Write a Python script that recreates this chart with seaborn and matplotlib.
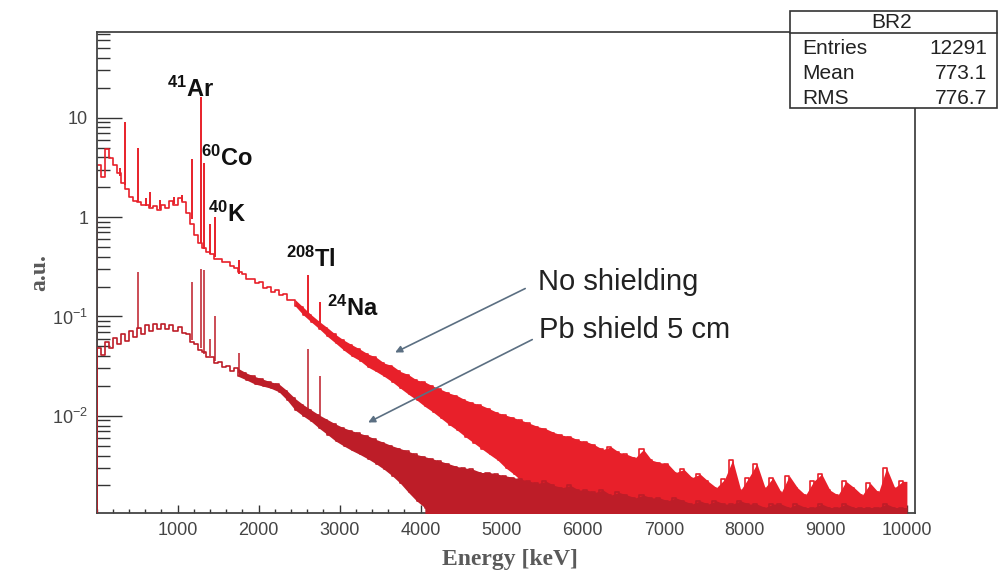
import numpy as np
import matplotlib
matplotlib.use("Agg")
import matplotlib.pyplot as plt
from matplotlib.ticker import LogLocator, NullFormatter, MultipleLocator, FixedLocator
from matplotlib.patches import Rectangle
from matplotlib.lines import Line2D
import seaborn as sns

# ---------------- data ----------------
# 100 keV wide ranges, 0 .. 10000 keV; for each range the upper and the lower
# extreme of the noisy histogram (a.u.); 0 = empty bins
range_edges_kev = np.arange(0, 10001, 100)

# "No shielding" spectrum
noshield_hi = [3.3, 4.8, 3.3, 2.2, 1.6, 1.42, 1.31, 1.28, 1.31, 1.44,
               1.54, 1.1, 0.66, 0.49, 0.42, 0.38, 0.35, 0.31, 0.265, 0.24,
               0.22, 0.2, 0.185, 0.168, 0.148, 0.124, 0.104, 0.089, 0.077, 0.066,
               0.058, 0.052, 0.047, 0.042, 0.039, 0.034, 0.032, 0.028, 0.026, 0.023,
               0.022, 0.02, 0.0185, 0.017, 0.016, 0.0145, 0.0135, 0.0128, 0.0118, 0.0108,
               0.0102, 0.0096, 0.009, 0.0084, 0.0078, 0.0074, 0.0068, 0.0064, 0.0062, 0.0057,
               0.0055, 0.0051, 0.0046, 0.0049, 0.0043, 0.0041, 0.0038, 0.0046, 0.0036, 0.0034,
               0.0033, 0.0027, 0.0029, 0.0024, 0.0026, 0.0022, 0.0019, 0.0023, 0.0036, 0.0018,
               0.0024, 0.0033, 0.0019, 0.0024, 0.0017, 0.0025, 0.0019, 0.0016, 0.0022, 0.0026,
               0.0018, 0.0016, 0.0022, 0.0019, 0.0016, 0.0021, 0.0017, 0.0030, 0.0019, 0.0022]
noshield_lo = [2.5, 3.9, 2.75, 1.9, 1.46, 1.32, 1.22, 1.19, 1.22, 1.32,
               1.4, 0.85, 0.55, 0.44, 0.38, 0.35, 0.32, 0.28, 0.24, 0.215,
               0.195, 0.178, 0.163, 0.148, 0.128, 0.104, 0.088, 0.075, 0.063, 0.054,
               0.046, 0.04, 0.036, 0.031, 0.028, 0.025, 0.022, 0.019, 0.0165, 0.0145,
               0.0125, 0.011, 0.0095, 0.0082, 0.0072, 0.0062, 0.0054, 0.0047, 0.0041, 0.0036,
               0.003, 0.0026, 0.0022, 0.002, 0.0018, 0.0016, 0.0014, 0.0013, 0.0012, 0.0011,
               0, 0, 0, 0, 0, 0, 0, 0, 0, 0,
               0, 0, 0, 0, 0, 0, 0, 0, 0, 0,
               0, 0, 0, 0, 0, 0, 0, 0, 0, 0,
               0, 0, 0, 0, 0, 0, 0, 0, 0, 0]

# "Pb shield 5 cm" spectrum
pb_hi = [0.048, 0.055, 0.061, 0.066, 0.071, 0.077, 0.082, 0.085, 0.085, 0.083,
         0.079, 0.066, 0.053, 0.044, 0.039, 0.035, 0.032, 0.03, 0.027, 0.025,
         0.0235, 0.022, 0.021, 0.018, 0.015, 0.013, 0.0115, 0.0102, 0.0092, 0.0083,
         0.0076, 0.0071, 0.0067, 0.0063, 0.0058, 0.0054, 0.005, 0.0047, 0.0044, 0.0041,
         0.0039, 0.0037, 0.0035, 0.0033, 0.0031, 0.003, 0.0029, 0.0027, 0.0027, 0.0026,
         0.0025, 0.0024, 0.0023, 0.0022, 0.0021, 0.0022, 0.002, 0.0019, 0.002, 0.0018,
         0.0018, 0.0017, 0.0018, 0.0016, 0.0017, 0.0016, 0.0015, 0.0016, 0.0015, 0.0015,
         0.0014, 0.0015, 0.0014, 0.0013, 0.0014, 0.0013, 0.0014, 0.0013, 0.0013, 0.0014,
         0.0013, 0.0013, 0.0012, 0.0013, 0.0013, 0.0012, 0.0013, 0.0012, 0.0012, 0.0013,
         0.0012, 0.0012, 0.0013, 0.0012, 0.0012, 0.0012, 0.0012, 0.0013, 0.0012, 0.0012]
pb_lo = [0.041, 0.048, 0.053, 0.057, 0.062, 0.067, 0.071, 0.074, 0.074, 0.072,
         0.069, 0.056, 0.046, 0.039, 0.034, 0.031, 0.028, 0.025, 0.023, 0.021,
         0.02, 0.019, 0.0175, 0.0145, 0.0115, 0.01, 0.0088, 0.0075, 0.0065, 0.0056,
         0.005, 0.0045, 0.0041, 0.0037, 0.0033, 0.0029, 0.0025, 0.0021, 0.0017, 0.0014,
         0.0012, 0, 0, 0, 0, 0, 0, 0, 0, 0,
         0, 0, 0, 0, 0, 0, 0, 0, 0, 0,
         0, 0, 0, 0, 0, 0, 0, 0, 0, 0,
         0, 0, 0, 0, 0, 0, 0, 0, 0, 0,
         0, 0, 0, 0, 0, 0, 0, 0, 0, 0,
         0, 0, 0, 0, 0, 0, 0, 0, 0, 0]

# energy above which the noisy band looks solid
noshield_dense_from_kev = 2400
pb_dense_from_kev = 1700

# gamma lines: energy (keV), continuum level, peak top
noshield_peak_kev = [295, 352, 511, 610, 660, 780, 960, 1060, 1173, 1294, 1332, 1405, 1461, 1764, 2614, 2754]
noshield_peak_base = [2.6, 2.1, 1.4, 1.3, 1.25, 1.2, 1.35, 1.45, 0.95, 0.55, 0.48, 0.42, 0.4, 0.27, 0.1, 0.08]
noshield_peak_top = [3.1, 9.0, 5.0, 1.55, 1.8, 1.5, 1.6, 1.65, 3.8, 16.0, 3.5, 0.85, 1.0, 0.37, 0.26, 0.14]

pb_peak_kev = [511, 1173, 1294, 1332, 1405, 1461, 1764, 2614, 2754]
pb_peak_base = [0.075, 0.058, 0.048, 0.042, 0.04, 0.036, 0.027, 0.0105, 0.008]
pb_peak_top = [0.28, 0.22, 0.30, 0.29, 0.06, 0.10, 0.043, 0.047, 0.025]

isotope_labels = [r"$^{\mathbf{41}}$Ar", r"$^{\mathbf{60}}$Co", r"$^{\mathbf{40}}$K",
                  r"$^{\mathbf{208}}$Tl", r"$^{\mathbf{24}}$Na"]
isotope_pos = [(870, 16.1), (1290, 3.27), (1377, 0.9), (2340, 0.316), (2844, 0.102)]

stats_title = "BR2"
stats_names = ["Entries", "Mean", "RMS"]
stats_values = ["12291", "773.1", "776.7"]

x_ticks = [1000, 2000, 3000, 4000, 5000, 6000, 7000, 8000, 9000, 10000]
y_ticks = [0.01, 0.1, 1, 10]
y_ticklabels = [r"$10^{-2}$", r"$10^{-1}$", "1", "10"]

# ---------------- style ----------------
sns.set_style("ticks")
plt.rcParams["font.family"] = ["Liberation Sans", "DejaVu Sans"]
plt.rcParams["mathtext.fontset"] = "custom"
plt.rcParams["mathtext.rm"] = "Liberation Sans"
plt.rcParams["mathtext.bf"] = "Liberation Sans:bold"
plt.rcParams["mathtext.it"] = "Liberation Sans:italic"

RED = "#e8202a"
DARK = "#bd1d28"
FLOOR = 1e-5

fig = plt.figure(figsize=(9.98, 5.74), dpi=100)
ax = fig.add_axes([96.5 / 998, 1 - 513.3 / 574, (915 - 96.5) / 998, (513.3 - 31.7) / 574])
ax.set_yscale("log")

centers = (range_edges_kev[:-1] + range_edges_kev[1:]) / 2.0


def draw_spectrum(hi, lo, dense_from, color, z, lw):
    hi = np.clip(np.asarray(hi, float), FLOOR, None)
    lo = np.clip(np.asarray(lo, float), FLOOR, None)
    # solid band where the histogram noise is dense
    xs = np.concatenate([centers, [range_edges_kev[-1]]])
    yh = np.concatenate([hi, [hi[-1]]])
    yl = np.concatenate([lo, [lo[-1]]])
    ax.fill_between(xs, yl, yh, where=xs >= dense_from, color=color, lw=0, zorder=z)
    # histogram outline: each 100 keV range as two half-width bins (upper, then lower extreme)
    vals = np.empty(hi.size * 2)
    vals[0::2] = hi
    vals[1::2] = lo
    edges = np.linspace(range_edges_kev[0], range_edges_kev[-1], vals.size + 1)
    sx = np.concatenate([[0], edges])
    sy = np.concatenate([[FLOOR], vals, [FLOOR]])
    sns.lineplot(x=sx, y=sy, drawstyle="steps-post", color=color, lw=lw, ax=ax,
                 estimator=None, sort=False, zorder=z)


draw_spectrum(noshield_hi, noshield_lo, noshield_dense_from_kev, RED, 2, 1.2)
ax.vlines(noshield_peak_kev, noshield_peak_base, noshield_peak_top, color=RED, lw=1.4, zorder=2)
draw_spectrum(pb_hi, pb_lo, pb_dense_from_kev, DARK, 3, 1.2)
ax.vlines(pb_peak_kev, pb_peak_base, pb_peak_top, color=DARK, lw=1.3, alpha=0.85, zorder=3)

ax.set_xlim(0, 10100)
ax.set_ylim(1.05e-3, 73)

ax.xaxis.set_major_locator(FixedLocator(x_ticks))
ax.xaxis.set_minor_locator(MultipleLocator(200))
ax.yaxis.set_major_locator(FixedLocator(y_ticks))
ax.set_yticklabels(y_ticklabels)
ax.yaxis.set_minor_locator(LogLocator(base=10, subs=range(2, 10)))
ax.yaxis.set_minor_formatter(NullFormatter())

ax.tick_params(axis="x", which="major", direction="in", length=6, width=1.0, color="#333",
               labelsize=13, labelcolor="#444", pad=6)
ax.tick_params(axis="x", which="minor", direction="in", length=3, width=1.0, color="#333")
ax.tick_params(axis="y", which="major", direction="in", length=18, width=1.0, color="#333",
               labelsize=13, labelcolor="#444", pad=6)
ax.tick_params(axis="y", which="minor", direction="in", length=9, width=1.0, color="#333")
for s in ax.spines.values():
    s.set_color("#444")
    s.set_linewidth(1.3)

ax.set_xlabel("Energy [keV]", family=["Liberation Serif", "DejaVu Serif"], fontweight="bold",
              fontsize=17, color="#5a5a5a")
ax.xaxis.set_label_coords(0.505, -0.074)
ax.set_ylabel("a.u.", family=["Liberation Serif", "DejaVu Serif"], fontweight="bold",
              fontsize=17, color="#5a5a5a")
ax.yaxis.set_label_coords(-0.056, 0.5)

for lab, (ex, ey) in zip(isotope_labels, isotope_pos):
    ax.text(ex, ey, lab, fontsize=17, fontweight="bold", color="#111", ha="left", va="baseline", zorder=5)

ax.text(5451, 0.186, "No shielding", fontsize=21, color="#222", ha="left", va="baseline")
ax.text(5463, 0.0614, "Pb shield 5 cm", fontsize=21, color="#222", ha="left", va="baseline")
arrow = dict(arrowstyle="-|>", color="#5b6f82", lw=1.2, mutation_scale=10, shrinkA=0, shrinkB=0)
ax.annotate("", xy=(3685, 0.0435), xytext=(5290, 0.191), arrowprops=arrow)
ax.annotate("", xy=(3352, 0.0086), xytext=(5377, 0.0586), arrowprops=arrow)

# ---------------- statistics box ----------------
W, H = 998.0, 574.0
bx0, bx1, by0, by1, bh = 790, 996.5, 11, 108, 33
fig.add_artist(Rectangle((bx0 / W, 1 - by1 / H), (bx1 - bx0) / W, (by1 - by0) / H,
                         transform=fig.transFigure, facecolor="white", edgecolor="#333",
                         lw=1.2, zorder=10))
fig.add_artist(Line2D([bx0 / W, bx1 / W], [1 - bh / H, 1 - bh / H], transform=fig.transFigure,
                      color="#333", lw=1.2, zorder=11))
fig.text(892 / W, 1 - 22 / H, stats_title, ha="center", va="center", fontsize=15, color="#222", zorder=12)
for i, (n, v) in enumerate(zip(stats_names, stats_values)):
    yb = 1 - (54 + 25 * i) / H
    fig.text(802 / W, yb, n, ha="left", va="baseline", fontsize=15, color="#222", zorder=12)
    fig.text(987 / W, yb, v, ha="right", va="baseline", fontsize=15, color="#222", zorder=12)

fig.savefig("out.png", dpi=100)
